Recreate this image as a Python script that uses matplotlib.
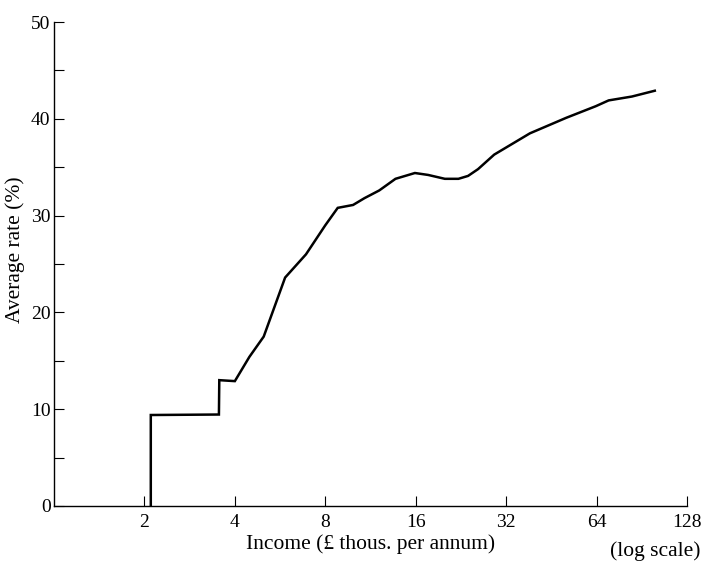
import matplotlib.pyplot as plt
from matplotlib.ticker import FixedLocator, NullFormatter

plt.rcParams['font.family'] = ['Liberation Serif', 'DejaVu Serif']

# average tax rate schedule, income in £ thousands per annum
income = [2.1, 2.1, 3.54, 3.55, 4.0, 4.47, 4.99, 5.88, 6.9, 8.0, 8.8, 9.9,
          10.8, 12.1, 13.7, 15.9, 17.6, 20.0, 22.2, 23.9, 25.8, 29.2, 38.4,
          50.7, 63.6, 70.2, 83.9, 100.0]
rate = [0.0, 9.4, 9.45, 13.0, 12.9, 15.4, 17.5, 23.6, 26.0, 29.0, 30.8, 31.1,
        31.8, 32.6, 33.8, 34.4, 34.2, 33.8, 33.8, 34.1, 34.8, 36.3, 38.5,
        40.1, 41.3, 41.9, 42.3, 42.9]

x_ticks = [2, 4, 8, 16, 32, 64, 128]
y_major = [0, 10, 20, 30, 40, 50]
y_minor = [5, 15, 25, 35, 45]

fig = plt.figure(figsize=(7.01, 5.67), dpi=100)
ax = fig.add_axes([54 / 701, 61 / 567, 633 / 701, 484 / 567])

ax.plot(income, rate, color='black', lw=1.8, solid_joinstyle='miter')

ax.set_xscale('log', base=2)
ax.set_xlim(1, 128)
ax.set_ylim(0, 50)

ax.xaxis.set_major_locator(FixedLocator(x_ticks))
ax.set_xticklabels([str(t) for t in x_ticks])
ax.xaxis.set_minor_locator(FixedLocator([]))
ax.xaxis.set_minor_formatter(NullFormatter())
ax.yaxis.set_major_locator(FixedLocator(y_major))
ax.yaxis.set_minor_locator(FixedLocator(y_minor))

for side in ('top', 'right'):
    ax.spines[side].set_visible(False)
for side in ('left', 'bottom'):
    ax.spines[side].set_linewidth(1.0)

ax.tick_params(which='both', direction='in', length=7, width=0.8)
ax.tick_params(axis='x', labelsize=14, pad=6)
ax.tick_params(axis='y', labelsize=14, pad=2.5)

ax.set_xlabel('Income (£ thous. per annum)', fontsize=15.5, labelpad=2)
ax.set_ylabel('Average rate (%)', fontsize=15.5)
ax.yaxis.set_label_coords(-0.046, 0.53)

fig.text(700 / 701, 1 - 551 / 567, '(log scale)', fontsize=15.5,
         ha='right', va='center')

fig.savefig('out.png', dpi=100)
